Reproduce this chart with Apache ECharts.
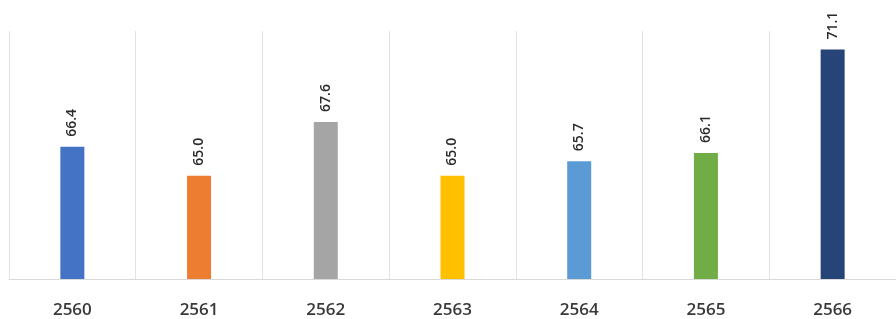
<!DOCTYPE html>
<html>
<head>
<meta charset="utf-8">
<script src="https://cdn.jsdelivr.net/npm/echarts@6/dist/echarts.min.js"></script>
<style>
  html, body { margin: 0; padding: 0; background: #fff; }
  #main { width: 896px; height: 319px; }
</style>
</head>
<body>
<div id="main"></div>
<script>
// 年份与数值
var years = ['2560', '2561', '2562', '2563', '2564', '2565', '2566']
var values = [66.4, 65.0, 67.6, 65.0, 65.7, 66.1, 71.1]
var barColors = ['#4472C4', '#ED7D31', '#A5A5A5', '#FFC000', '#5B9BD5', '#70AD47', '#264478']

var chart = echarts.init(document.getElementById('main'))

var option = {
  animation: false,
  grid: {
    left: 9,
    right: 0,
    top: 31,
    bottom: 36
  },
  xAxis: {
    type: 'category',
    data: years,
    axisTick: { show: false },
    axisLine: { lineStyle: { color: '#d9d9d9', width: 1 } },
    splitLine: { show: true, lineStyle: { color: '#e3e3e3', width: 1 } },
    axisLabel: {
      interval: 0,
      margin: 23,
      fontFamily: 'Open Sans',
      fontSize: 17,
      fontWeight: 600,
      color: '#3a3a3a'
    }
  },
  yAxis: {
    type: 'value',
    min: 60,
    max: 72,
    show: false,
    splitLine: { show: false }
  },
  series: [
    {
      type: 'bar',
      barWidth: 24,
      data: values.map(function (v, i) {
        return { value: v, itemStyle: { color: barColors[i] } }
      }),
      label: {
        show: true,
        position: 'top',
        distance: 8,
        rotate: 90,
        align: 'left',
        verticalAlign: 'middle',
        offset: [2, 0],
        fontFamily: 'Open Sans',
        fontSize: 14,
        fontWeight: 600,
        color: '#2a2a2a',
        formatter: function (p) { return p.value.toFixed(1) }
      }
    }
  ]
}

chart.setOption(option)
</script>
</body>
</html>
